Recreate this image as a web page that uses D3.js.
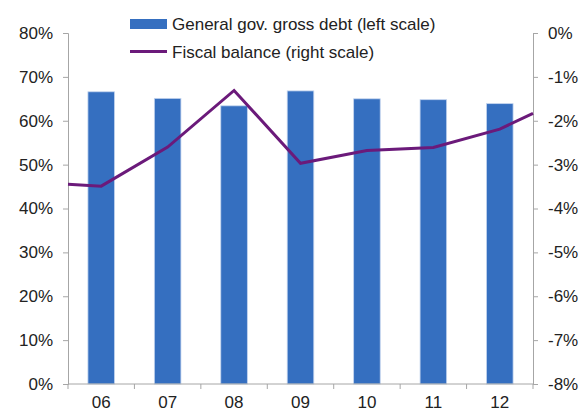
<!DOCTYPE html>
<html>
<head>
<meta charset="utf-8">
<script src="https://cdn.jsdelivr.net/npm/d3@7"></script>
<style>
  body { margin: 0; background: #fff; }
  svg { font-family: "Liberation Sans", Arial, sans-serif; }
</style>
</head>
<body>
<div id="chart"></div>
<script>
(function() {
  'use strict';

  // data
  var years = ['06', '07', '08', '09', '10', '11', '12'];
  var debt = [66.6, 65.1, 63.4, 66.8, 65.0, 64.8, 63.9];          // % of GDP, left scale
  var fiscal = [-3.49, -2.60, -1.31, -2.97, -2.68, -2.61, -2.19];   // % of GDP, right scale
  var fiscalEdges = [-3.45, -1.83];                                 // line runs on to both axes
  var leftTicks = [0, 10, 20, 30, 40, 50, 60, 70, 80];
  var rightTicks = [0, -1, -2, -3, -4, -5, -6, -7, -8];
  var legendLabels = ['General gov. gross debt (left scale)', 'Fiscal balance (right scale)'];

  var width = 585, height = 412;
  var margin = { top: 33, right: 52, bottom: 28, left: 68 };
  var axisColor = '#a6a6a6';
  var barColor = '#356fc0';
  var lineColor = '#6b1a7a';

  var svg = d3.select('#chart')
    .append('svg')
      .attr('width', width)
      .attr('height', height);

  var x = d3.scaleBand()
    .domain(years)
    .range([margin.left, width - margin.right])
    .paddingInner(0.6)
    .paddingOuter(0.3);

  var yLeft = d3.scaleLinear()
    .domain([0, 80])
    .range([height - margin.bottom, margin.top]);

  var yRight = d3.scaleLinear()
    .domain([-8, 0])
    .range([height - margin.bottom, margin.top]);

  var pct = function(d) { return d + '%'; };

  // bars
  svg.append('g')
    .selectAll('rect')
    .data(years)
    .enter().append('rect')
      .attr('x', function(d) { return x(d); })
      .attr('y', function(d, i) { return yLeft(debt[i]); })
      .attr('width', x.bandwidth())
      .attr('height', function(d, i) { return yLeft(0) - yLeft(debt[i]); })
      .attr('fill', barColor)
      .attr('stroke', '#c3d4ee')
      .attr('stroke-width', 0.8);

  // left axis
  var gl = svg.append('g')
    .attr('transform', 'translate(' + margin.left + ',0)')
    .call(d3.axisLeft(yLeft).tickValues(leftTicks).tickFormat(pct).tickSize(5).tickPadding(10));

  // right axis
  var gr = svg.append('g')
    .attr('transform', 'translate(' + (width - margin.right) + ',0)')
    .call(d3.axisRight(yRight).tickValues(rightTicks).tickFormat(pct).tickSize(5).tickPadding(10));

  // category axis, ticks between categories
  var step = x.step();
  var xStart = x.range()[0], xEnd = x.range()[1];
  var gx = svg.append('g')
    .attr('transform', 'translate(0,' + yLeft(0) + ')');
  gx.append('line')
    .attr('x1', xStart).attr('x2', xEnd)
    .attr('stroke', axisColor);
  gx.selectAll('line.tick')
    .data(d3.range(years.length + 1))
    .enter().append('line')
      .attr('class', 'tick')
      .attr('x1', function(i) { return xStart + i * step; })
      .attr('x2', function(i) { return xStart + i * step; })
      .attr('y1', 0).attr('y2', 5)
      .attr('stroke', axisColor);
  gx.selectAll('text')
    .data(years)
    .enter().append('text')
      .attr('x', function(d) { return x(d) + x.bandwidth() / 2; })
      .attr('y', 24)
      .attr('text-anchor', 'middle')
      .attr('font-size', 17)
      .attr('fill', '#222')
      .text(function(d) { return d; });

  [gl, gr].forEach(function(g) {
    g.select('.domain').attr('stroke', axisColor);
    g.selectAll('.tick line').attr('stroke', axisColor);
    g.selectAll('.tick text')
      .attr('font-size', 17)
      .attr('fill', '#222')
      .attr('font-family', '"Liberation Sans", Arial, sans-serif');
  });

  // fiscal balance line
  var pts = [[xStart, fiscalEdges[0]]]
    .concat(years.map(function(d, i) { return [x(d) + x.bandwidth() / 2, fiscal[i]]; }))
    .concat([[xEnd, fiscalEdges[1]]]);

  svg.append('path')
    .datum(pts)
    .attr('fill', 'none')
    .attr('stroke', lineColor)
    .attr('stroke-width', 3)
    .attr('stroke-linejoin', 'miter')
    .attr('d', d3.line()
      .x(function(d) { return d[0]; })
      .y(function(d) { return yRight(d[1]); }));

  // legend
  var lg = svg.append('g').attr('transform', 'translate(130,0)');
  lg.append('rect')
    .attr('x', 0).attr('y', 19)
    .attr('width', 37).attr('height', 10)
    .attr('fill', barColor);
  lg.append('line')
    .attr('x1', 0).attr('x2', 37)
    .attr('y1', 51.5).attr('y2', 51.5)
    .attr('stroke', lineColor)
    .attr('stroke-width', 3);
  lg.selectAll('text')
    .data(legendLabels)
    .enter().append('text')
      .attr('x', 42)
      .attr('y', function(d, i) { return 24 + i * 28; })
      .attr('dy', '0.35em')
      .attr('font-size', 17)
      .attr('fill', '#222')
      .text(function(d) { return d; });
})();
</script>
</body>
</html>
